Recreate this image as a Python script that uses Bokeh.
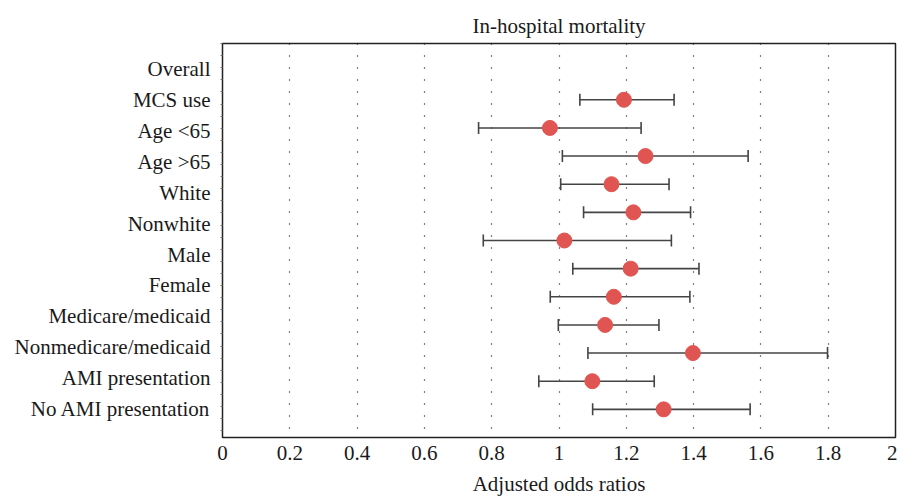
from bokeh.plotting import figure
from bokeh.models import ColumnDataSource, Range1d, FixedTicker, Whisker, TeeHead
from bokeh.embed import file_html
from bokeh.resources import INLINE

# ---- data ----
labels = ["Overall", "MCS use", "Age <65", "Age >65", "White", "Nonwhite", "Male",
          "Female", "Medicare/medicaid", "Nonmedicare/medicaid", "AMI presentation",
          "No AMI presentation"]
est = [None, 1.193, 0.973, 1.257, 1.156, 1.221, 1.016, 1.213, 1.163, 1.137, 1.398, 1.099, 1.311]
lower = [None, 1.062, 0.761, 1.010, 1.005, 1.073, 0.775, 1.041, 0.974, 0.998, 1.086, 0.940, 1.100]
upper = [None, 1.342, 1.244, 1.562, 1.327, 1.391, 1.334, 1.416, 1.389, 1.297, 1.798, 1.283, 1.568]
x_ticks = [0, 0.2, 0.4, 0.6, 0.8, 1.0, 1.2, 1.4, 1.6, 1.8, 2.0]
x_tick_labels = ["0", "0.2", "0.4", "0.6", "0.8", "1", "1.2", "1.4", "1.6", "1.8", "2"]

# slots for rows with estimates (slot 0 = Overall, no estimate)
rows = [i for i, v in enumerate(est) if v is not None]
src = ColumnDataSource(dict(
    y=rows,
    est=[est[i] for i in rows],
    lo=[lower[i] for i in rows],
    hi=[upper[i] for i in rows],
))

n_slots = len(est)
label_pos = [-0.08 + i * (n_slots - 1 + 0.06) / (len(labels) - 1) for i in range(len(labels))]

FONT = "Liberation Serif"
TXT = "#1a1a1a"
FS = "21px"

p = figure(width=897, height=498, output_backend="svg", toolbar_location=None,
           x_range=Range1d(0, 2), y_range=Range1d(n_slots, -1),
           min_border_left=222, min_border_right=2, min_border_top=43,
           min_border_bottom=61, title="In-hospital mortality")

p.title.align = "center"
p.title.vertical_align = "top"
p.title.text_font = FONT
p.title.text_font_size = FS
p.title.text_font_style = "normal"
p.title.text_color = TXT
p.title.offset = 0
p.title.standoff = 8

p.outline_line_color = "#222222"
p.outline_line_width = 1.5
p.outline_line_alpha = 1

# x axis
xa = p.xaxis[0]
xa.ticker = FixedTicker(ticks=x_ticks)
xa.major_label_overrides = {t: l for t, l in zip(x_ticks, x_tick_labels)}
xa.axis_label = "Adjusted odds ratios"
xa.axis_label_text_font = FONT
xa.axis_label_text_font_size = FS
xa.axis_label_text_font_style = "normal"
xa.axis_label_text_color = TXT
xa.axis_label_standoff = 9
xa.major_label_text_font = FONT
xa.major_label_text_font_size = FS
xa.major_label_text_color = TXT
xa.major_label_standoff = 8
xa.major_tick_out = 0
xa.major_tick_in = 0
xa.minor_tick_out = 0
xa.minor_tick_in = 0
xa.axis_line_color = None

# y axis
ya = p.yaxis[0]
ya.ticker = FixedTicker(ticks=label_pos,
                        minor_ticks=[k * 0.43 - 1 for k in range(0, 34)])
ya.major_label_overrides = {pos: l for pos, l in zip(label_pos, labels)}
ya.major_label_text_font = FONT
ya.major_label_text_font_size = FS
ya.major_label_text_color = TXT
ya.major_label_standoff = 10
ya.major_tick_out = 0
ya.major_tick_in = 0
ya.minor_tick_out = 2
ya.minor_tick_in = 0
ya.minor_tick_line_color = "#777777"
ya.axis_line_color = None

# grid
p.ygrid.grid_line_color = None
p.xgrid.ticker = FixedTicker(ticks=x_ticks)
p.xgrid.grid_line_color = "#000000"
p.xgrid.grid_line_dash = "1 11"
p.xgrid.grid_line_width = 1.2

# error bars
wh = Whisker(source=src, base="y", lower="lo", upper="hi", dimension="width",
             line_color="#444444", line_width=1.6,
             lower_head=TeeHead(size=12, line_color="#444444", line_width=1.6),
             upper_head=TeeHead(size=12, line_color="#444444", line_width=1.6))
p.add_layout(wh)

p.scatter(x="est", y="y", source=src, size=15, fill_color="#e05552",
          line_color="#e05552", marker="circle")

open("out.html", "w").write(file_html(p, INLINE))
